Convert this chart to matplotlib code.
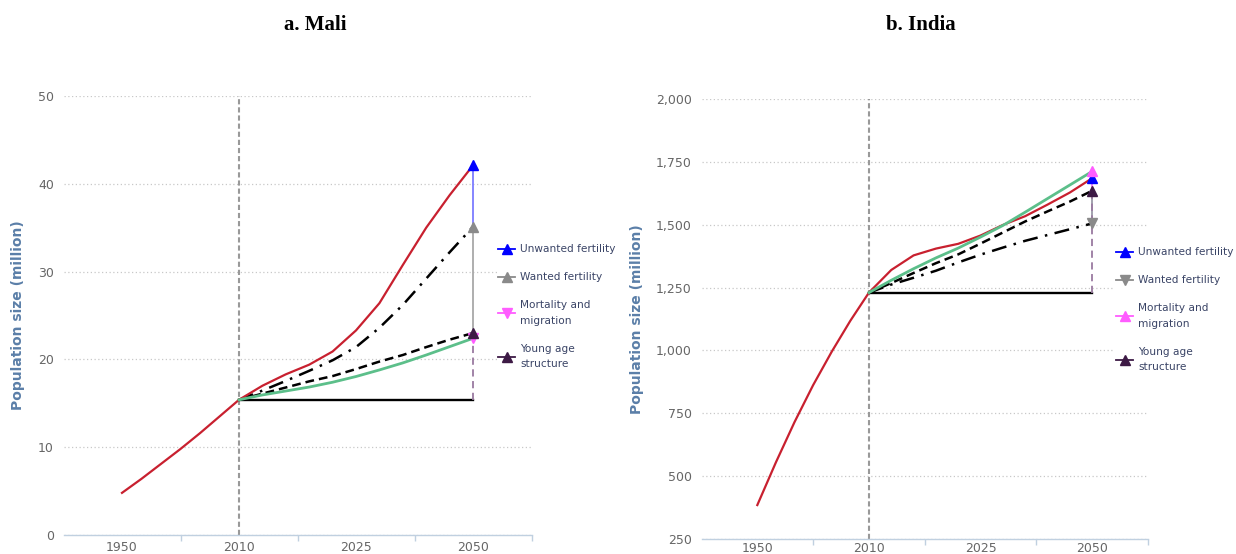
import numpy as np
import matplotlib
matplotlib.use("Agg")
import matplotlib.pyplot as plt
from matplotlib.lines import Line2D
from matplotlib.ticker import FuncFormatter

# ---------------- data ----------------
TICK_YEARS = [1950, 2010, 2025, 2050]
TICK_LABELS = ["1950", "2010", "2025", "2050"]
BOUNDARY_YEARS = [1980, 2017.5, 2037.5, 2062.5]

HIST_YEARS = [1950, 1960, 1970, 1980, 1990, 2000, 2010]
PROJ_YEARS = [2010, 2013, 2016, 2019, 2022, 2025, 2030, 2035, 2040, 2045, 2050]

# Mali (million)
mali_hist = [4.8, 6.4, 8.1, 9.8, 11.6, 13.5, 15.4]
mali_total = [15.4, 17.0, 18.3, 19.4, 20.9, 23.3, 26.4, 30.75, 35.0, 38.7, 42.1]   # red
mali_wanted = [15.4, 16.45, 17.55, 18.7, 19.9, 21.4, 23.6, 26.2, 29.2, 32.2, 35.1]  # dash-dot
mali_young = [15.4, 16.1, 16.8, 17.5, 18.1, 18.9, 19.75, 20.5, 21.4, 22.25, 23.0]  # dashed
mali_mort = [15.4, 15.95, 16.4, 16.85, 17.4, 18.05, 18.8, 19.6, 20.5, 21.45, 22.4]  # green
mali_const = [15.4, 15.4]

# India (million)
india_hist = [385, 555, 715, 862, 995, 1118, 1230]
india_total = [1230, 1320, 1378, 1405, 1424, 1457, 1499, 1534, 1580, 1628, 1685]
india_wanted = [1230, 1262, 1289, 1317, 1350, 1381, 1409, 1436, 1459, 1482, 1505]
india_young = [1230, 1268, 1308, 1347, 1382, 1425, 1469, 1513, 1553, 1592, 1635]
india_mort = [1230, 1279, 1325, 1368, 1407, 1451, 1497, 1550, 1604, 1658, 1712]
india_const = [1230, 1230]

LEGEND_LABELS = ["Unwanted fertility", "Wanted fertility",
                 "Mortality and\nmigration", "Young age\nstructure"]

# ---------------- styling ----------------
RED = "#c8202f"
GREEN = "#5cbf8a"
C_UNW_M, C_UNW_L = "#0000ff", "#7c7cff"
C_WAN_M, C_WAN_L = "#8a8a8a", "#a8a8a8"
C_MOR_M, C_MOR_L = "#ff5cff", "#ff8cff"
C_YNG_M, C_YNG_L = "#3d1a45", "#9a7aa0"
AXIS_BLUE = "#c0d0e0"
TICK_GREY = "#666666"
TITLE_BLUE = "#5b7fa8"
LEG_TEXT = "#3a4466"

# piecewise category-like year axis
_Y_ANCH = [1800, 1950, 2010, 2025, 2050, 2200]
_P_ANCH = [-2.5, 0, 1, 2, 3, 9]


def fwd(x):
    return np.interp(x, _Y_ANCH, _P_ANCH)


def inv(p):
    return np.interp(p, _P_ANCH, _Y_ANCH)


W, H = 1236, 554
fig = plt.figure(figsize=(W / 100, H / 100), dpi=100)


def px_axes(l, r, top, bottom):
    return fig.add_axes([l / W, 1 - bottom / H, (r - l) / W, (bottom - top) / H])


def draw_panel(ax, hist, total, wanted, young, mort, const, ylim, yticks,
               fmt, label_x, leg_anchor, xpad):
    ax.set_xscale("function", functions=(fwd, inv))
    ax.set_xlim(1920, 2062.5)
    ax.set_ylim(*ylim)
    ax.set_yticks(yticks)
    ax.yaxis.set_major_formatter(FuncFormatter(fmt))
    ax.set_xticks(TICK_YEARS)
    ax.set_xticklabels(TICK_LABELS)
    ax.set_xticks(BOUNDARY_YEARS, minor=True)
    for s in ["top", "right", "left"]:
        ax.spines[s].set_visible(False)
    ax.spines["bottom"].set_color(AXIS_BLUE)
    ax.spines["bottom"].set_linewidth(1.0)
    ax.tick_params(axis="x", which="major", length=0, pad=xpad,
                   labelsize=9, labelcolor=TICK_GREY)
    ax.tick_params(axis="x", which="minor", length=4, width=1.0,
                   color=AXIS_BLUE, direction="out")
    ax.tick_params(axis="y", length=0, pad=7, labelsize=9, labelcolor=TICK_GREY)
    ax.grid(axis="y", color="#c8c8c8", linestyle=(0, (1, 2)), linewidth=0.9)
    ax.set_axisbelow(True)

    ax.set_ylabel("Population size (million)", color=TITLE_BLUE,
                  fontsize=10, fontweight="bold")
    ax.yaxis.set_label_coords(label_x, 0.5)

    ax.axvline(2010, color="#999999", linestyle=(0, (2.5, 1.4)),
               linewidth=1.5, zorder=2)

    ax.plot(HIST_YEARS, hist, color=RED, lw=1.6, zorder=4,
            solid_joinstyle="round")
    ax.plot([PROJ_YEARS[0], PROJ_YEARS[-1]], const, color="black", lw=1.7,
            zorder=3)
    ax.plot(PROJ_YEARS, wanted, color="black", lw=1.8,
            linestyle=(0, (6, 3, 1, 3)), zorder=3)
    ax.plot(PROJ_YEARS, young, color="black", lw=1.8,
            linestyle=(0, (3.5, 2)), zorder=3)
    ax.plot(PROJ_YEARS, total, color=RED, lw=1.6, zorder=4,
            solid_joinstyle="round")
    ax.plot(PROJ_YEARS, mort, color=GREEN, lw=2.0, zorder=5,
            solid_joinstyle="round")

    # decomposition arrows at 2050
    xe = PROJ_YEARS[-1]
    segs = [
        (wanted[-1], total[-1], C_UNW_L, C_UNW_M, "-"),
        (mort[-1], wanted[-1], C_WAN_L, C_WAN_M, "-"),
        (young[-1], mort[-1], C_MOR_L, C_MOR_M, "-"),
        (const[-1], young[-1], C_YNG_L, C_YNG_M, (0, (4, 2.5))),
    ]
    handles = []
    for i, (y0, y1, lc, mc, ls) in enumerate(segs):
        mk = "^" if y1 >= y0 else "v"
        ax.plot([xe, xe], [y0, y1], color=lc, lw=1.3, linestyle=ls,
                zorder=6 + i)
        ax.plot([xe], [y1], marker=mk, color=mc, ms=6.5, linestyle="none",
                zorder=10 + i, clip_on=False)
        handles.append(Line2D([0], [0], color=mc, lw=1.3, marker=mk, ms=6.5))

    leg = ax.legend(handles, LEGEND_LABELS, loc="upper left",
                    bbox_to_anchor=leg_anchor, bbox_transform=fig.transFigure,
                    frameon=True, facecolor="white", edgecolor="none",
                    framealpha=1.0, fontsize=7.6, handlelength=1.55,
                    handletextpad=0.5, labelspacing=1.7, borderpad=0.1,
                    labelcolor=LEG_TEXT)
    for t in leg.get_texts():
        t.set_linespacing(1.7)
    leg.set_zorder(20)


ax1 = px_axes(63.5, 531.5, 96, 535)
draw_panel(ax1, mali_hist, mali_total, mali_wanted, mali_young, mali_mort,
           mali_const, (0, 50), [0, 10, 20, 30, 40, 50],
           lambda v, p: f"{v:,.0f}", (25 - 63.5) / 468,
           (492 / W, 1 - 238 / H), 4.5)

ax2 = px_axes(701.5, 1148, 99, 539)
draw_panel(ax2, india_hist, india_total, india_wanted, india_young, india_mort,
           india_const, (250, 2000), list(range(250, 2001, 250)),
           lambda v, p: f"{v:,.0f}", (644 - 701.5) / 446.5,
           (1110 / W, 1 - 241 / H), 2.0)

fig.text(315 / W, 1 - 25 / H, "a. Mali", ha="center", va="center",
         family="Liberation Serif", fontweight="bold", fontsize=15)
fig.text(921 / W, 1 - 25 / H, "b. India", ha="center", va="center",
         family="Liberation Serif", fontweight="bold", fontsize=15)

fig.savefig("out.png", dpi=100)
